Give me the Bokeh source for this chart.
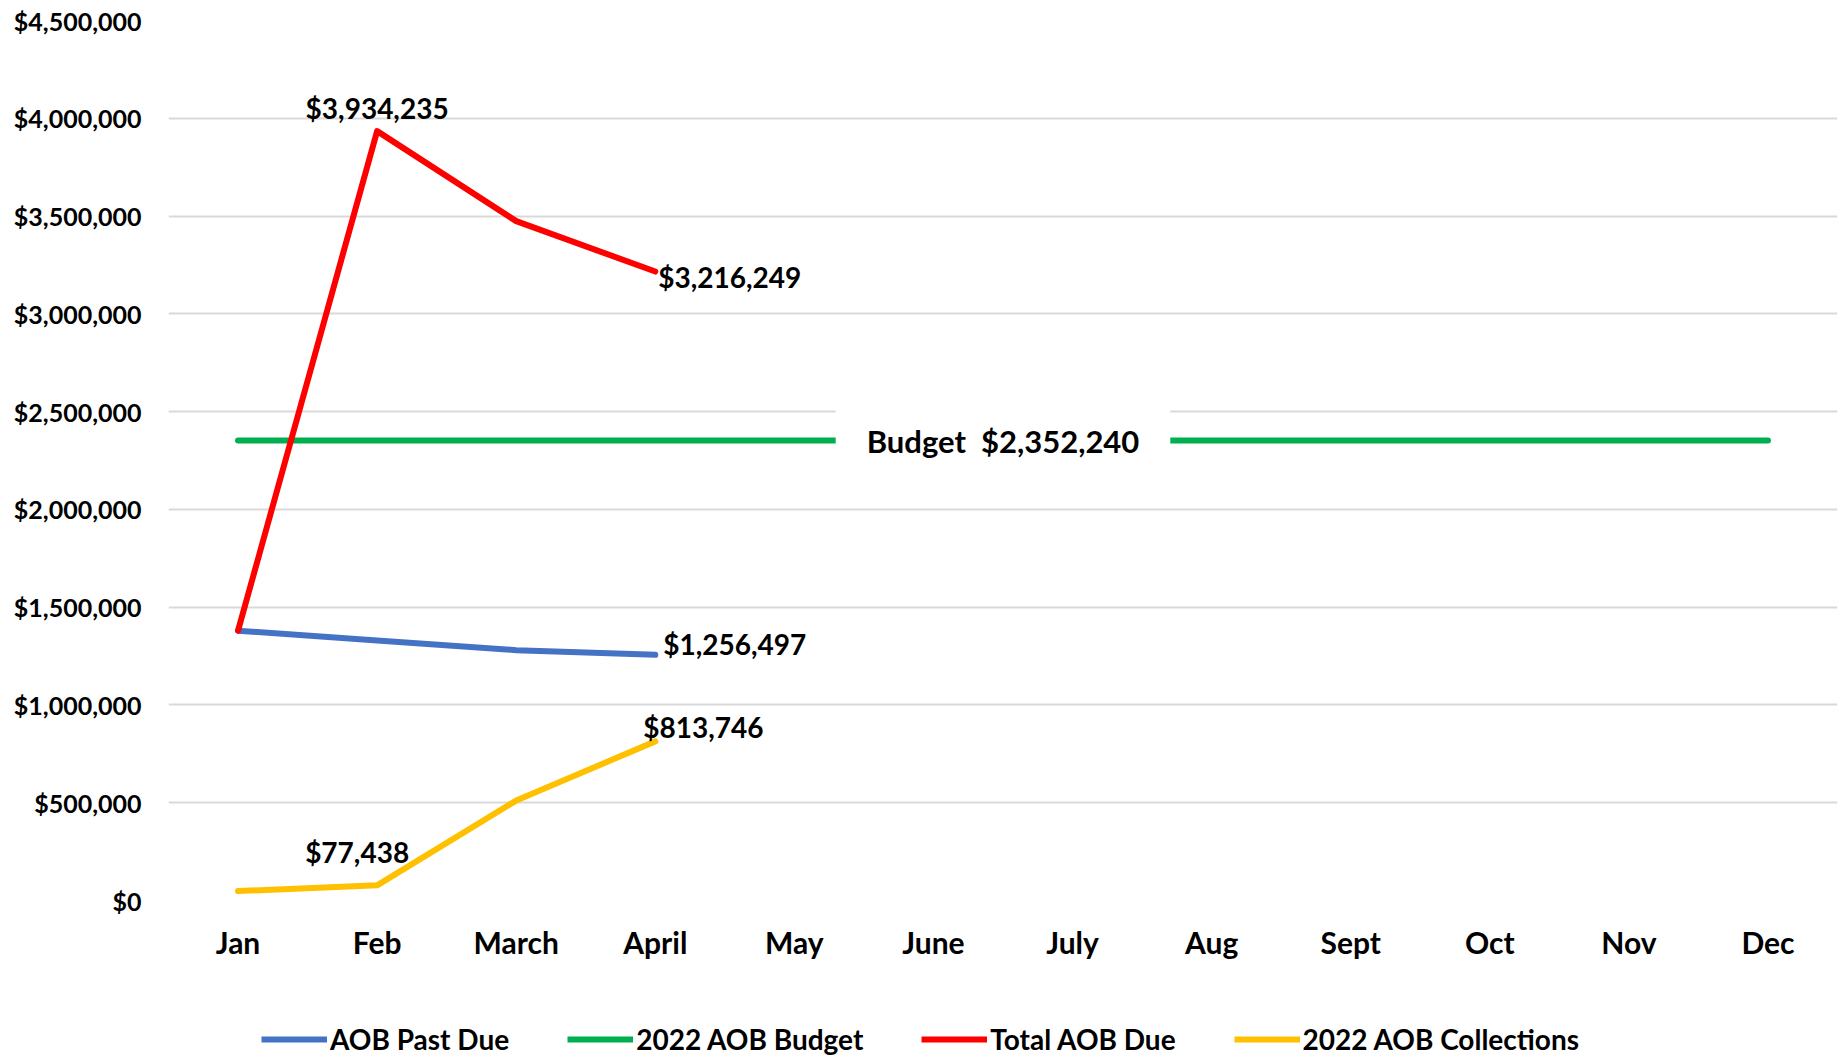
from bokeh.plotting import figure
from bokeh.layouts import column
from bokeh.models import (Range1d, FactorRange, NumeralTickFormatter, FixedTicker,
                          Legend, LegendItem, Label)
from bokeh.embed import file_html
from bokeh.resources import INLINE
from bokeh.core.properties import value

# ---- data ----
months = ["Jan", "Feb", "March", "April", "May", "June", "July", "Aug", "Sept", "Oct", "Nov", "Dec"]
y_ticks = [0, 500000, 1000000, 1500000, 2000000, 2500000, 3000000, 3500000, 4000000, 4500000]

actual_months = ["Jan", "Feb", "March", "April"]
aob_past_due = [1380000, 1330000, 1280000, 1256497]
total_aob_due = [1380000, 3934235, 3474000, 3216249]
aob_collections = [48000, 77438, 511000, 813746]
budget_value = 2352240
aob_budget = [budget_value] * len(months)

series_names = ["AOB Past Due", "2022 AOB Budget", "Total AOB Due", "2022 AOB Collections"]
series_colors = ["#4472C4", "#00B050", "#FF0000", "#FFC000"]
series_x = [actual_months, months, actual_months, actual_months]
series_y = [aob_past_due, aob_budget, total_aob_due, aob_collections]

FONT = "Lato"

p = figure(width=1845, height=976,
           x_range=FactorRange(*months),
           y_range=Range1d(0, 4500000),
           output_backend="svg", toolbar_location=None,
           min_border_left=168, min_border_right=8,
           min_border_top=20, min_border_bottom=76)

p.outline_line_color = None
p.xgrid.visible = False
p.ygrid.grid_line_color = "#D9D9D9"
p.ygrid.grid_line_width = 2

p.yaxis.ticker = FixedTicker(ticks=y_ticks)
p.yaxis.formatter = NumeralTickFormatter(format="$0,0")
for ax in (p.xaxis[0], p.yaxis[0]):
    ax.axis_line_color = None
    ax.major_tick_line_color = None
    ax.minor_tick_line_color = None
    ax.major_label_text_font = FONT
    ax.major_label_text_font_style = "bold"
    ax.major_label_text_color = "black"
p.yaxis.major_label_text_font_size = "25px"
p.yaxis.major_label_standoff = 21
p.xaxis.major_label_text_font_size = "30px"
p.xaxis.major_label_standoff = 17

common = dict(line_width=6, line_cap="round", line_join="round")
for xs, ys, color in zip(series_x, series_y, series_colors):
    p.line(xs, ys, line_color=color, **common)

def money(v):
    return f"${v:,.0f}"

lab = dict(text_font=value(FONT), text_font_size="28px", text_font_style="bold",
           text_color="black", text_baseline="middle")
p.text(x=[actual_months[1]], y=[total_aob_due[1]], text=[money(total_aob_due[1])],
       text_align="center", x_offset=0, y_offset=-23, **lab)
p.text(x=[actual_months[3]], y=[total_aob_due[3]], text=[money(total_aob_due[3])],
       text_align="left", x_offset=3, y_offset=5, **lab)
p.text(x=[actual_months[3]], y=[aob_past_due[3]], text=[money(aob_past_due[3])],
       text_align="left", x_offset=8, y_offset=-11, **lab)
p.text(x=[actual_months[3]], y=[aob_collections[3]], text=[money(aob_collections[3])],
       text_align="left", x_offset=-12, y_offset=-14, **lab)
p.text(x=[actual_months[1]], y=[aob_collections[1]], text=[money(aob_collections[1])],
       text_align="center", x_offset=-20, y_offset=-33, **lab)

budget_label = Label(x=6.0, y=budget_value, x_units="data", y_units="data",
                     text="Budget\u00a0\u00a0" + money(budget_value),
                     text_align="center", text_baseline="middle",
                     text_font=FONT, text_font_style="bold", text_font_size="31px",
                     text_color="black",
                     background_fill_color="white", padding=31)
p.add_layout(budget_label)

# ---- legend strip below the chart ----
leg = figure(width=1845, height=80, x_range=FactorRange(*months),
             y_range=Range1d(0, 4500000),
             output_backend="svg", toolbar_location=None,
             x_axis_location=None, y_axis_location=None, min_border=0)
leg.outline_line_color = None
leg.grid.visible = False
items = []
for name, xs, ys, color in zip(series_names, series_x, series_y, series_colors):
    r = leg.line(xs, ys, line_color=color, line_width=6, visible=False)
    items.append(LegendItem(label=name, renderers=[r]))
legend = Legend(items=items, orientation="horizontal", location=(93, 0),
                padding=0, margin=0, spacing=58,
                glyph_width=66, glyph_height=30, label_standoff=3,
                label_text_font=FONT, label_text_font_style="bold",
                label_text_font_size="28px", label_text_color="black",
                border_line_color=None, background_fill_alpha=0,
                inactive_fill_alpha=0)
leg.add_layout(legend, "center")

layout = column(p, leg, spacing=0)
open("out.html", "w").write(file_html(layout, INLINE))
